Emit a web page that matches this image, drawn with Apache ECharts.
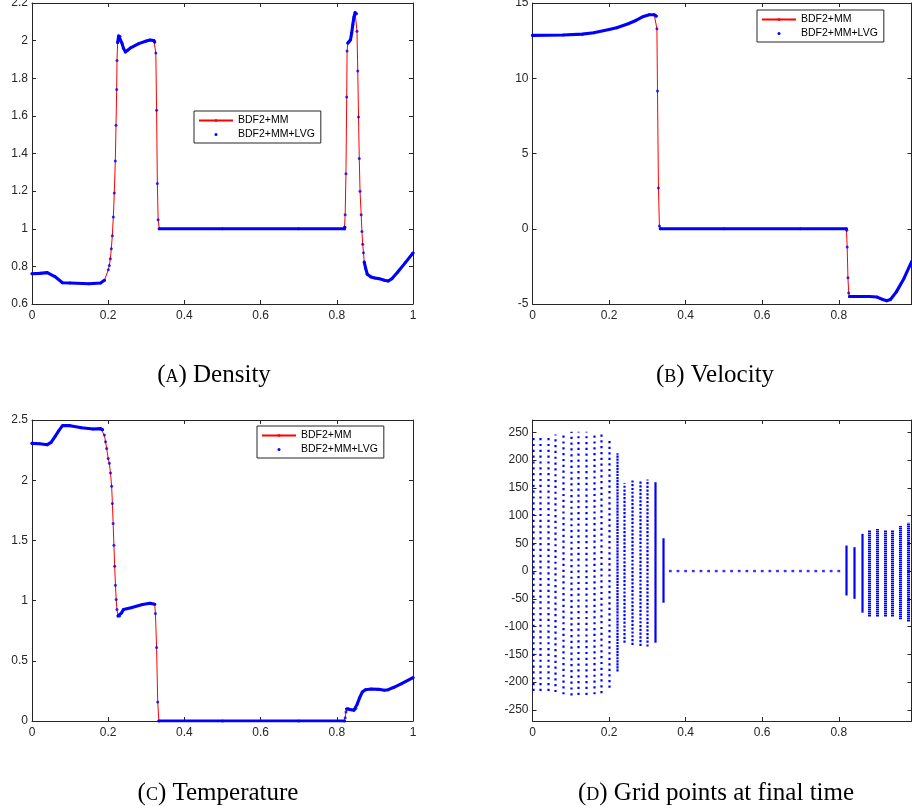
<!DOCTYPE html>
<html>
<head>
<meta charset="utf-8">
<script src="https://cdn.jsdelivr.net/npm/echarts@6/dist/echarts.min.js"></script>
<style>
  html, body { margin: 0; padding: 0; background: #fff; }
  #chart { width: 912px; height: 810px; }
</style>
</head>
<body>
<div id="chart"></div>
<script>
// values
var legendNames = ['BDF2+MM', 'BDF2+MM+LVG'];
var xTicks = [0, 0.2, 0.4, 0.6, 0.8, 1];

// (A) density
var densityX = [0, 0.02, 0.04, 0.06, 0.08, 0.1, 0.15, 0.18, 0.19, 0.2003, 0.203, 0.2056, 0.2082, 0.2108,
  0.2135, 0.216, 0.2187, 0.2205, 0.2222, 0.2231, 0.2248, 0.2275, 0.231, 0.236, 0.24, 0.245, 0.25, 0.26,
  0.28, 0.3, 0.31, 0.32, 0.322, 0.325, 0.327, 0.329, 0.331, 0.334, 0.5, 0.7, 0.82, 0.821, 0.822, 0.824,
  0.826, 0.827, 0.829, 0.832, 0.836, 0.839, 0.842, 0.845, 0.848, 0.851, 0.853, 0.855, 0.857, 0.859,
  0.861, 0.864, 0.866, 0.868, 0.87, 0.872, 0.876, 0.88, 0.89, 0.9, 0.91, 0.925, 0.935, 0.945, 0.96, 0.98, 1];
var densityY = [0.761, 0.763, 0.767, 0.746, 0.713, 0.712, 0.708, 0.712, 0.726, 0.782, 0.805, 0.84, 0.894, 0.963,
  1.062, 1.19, 1.36, 1.55, 1.74, 1.895, 1.99, 2.025, 2.023, 1.987, 1.96, 1.94, 1.948, 1.963,
  1.984, 1.998, 2.003, 2.0, 1.993, 1.934, 1.63, 1.24, 1.048, 1.0, 1.0, 1.0, 1.0, 1.008, 1.075, 1.293,
  1.70, 1.945, 1.987, 1.993, 2.005, 2.04, 2.086, 2.125, 2.149, 2.143, 2.05, 1.838, 1.594, 1.373,
  1.2, 1.075, 0.985, 0.917, 0.873, 0.823, 0.788, 0.758, 0.744, 0.738, 0.735, 0.726, 0.722, 0.735, 0.77, 0.82, 0.871];
var densityDense = [[0, 0.19], [0.2248, 0.322], [0.334, 0.821], [0.829, 0.851], [0.872, 1]];

// (B) velocity
var velocityX = [0, 0.08, 0.13, 0.16, 0.2, 0.22, 0.25, 0.27, 0.29, 0.305, 0.318, 0.323, 0.325, 0.3265,
  0.329, 0.3315, 0.334, 0.5, 0.7, 0.82, 0.821, 0.822, 0.824, 0.826, 0.828, 0.84, 0.88, 0.9, 0.915,
  0.925, 0.935, 0.95, 0.97, 0.99];
var velocityY = [12.85, 12.87, 12.93, 13.02, 13.24, 13.36, 13.62, 13.84, 14.11, 14.22, 14.22, 14.13, 13.29, 9.15,
  2.70, 0.18, 0, 0, 0, 0, -0.1, -1.22, -3.26, -4.27, -4.5, -4.5, -4.5, -4.54, -4.70,
  -4.78, -4.7, -4.21, -3.32, -2.2];
var velocityDense = [[0, 0.323], [0.334, 0.82], [0.828, 1]];

// (C) temperature
var temperatureX = [0, 0.02, 0.04, 0.05, 0.06, 0.07, 0.08, 0.1, 0.13, 0.16, 0.18, 0.185, 0.19, 0.193, 0.196,
  0.2, 0.203, 0.206, 0.209, 0.211, 0.213, 0.215, 0.217, 0.219, 0.221, 0.223, 0.226, 0.23, 0.235, 0.24,
  0.26, 0.29, 0.31, 0.322, 0.324, 0.327, 0.33, 0.333, 0.5, 0.7, 0.82, 0.822, 0.824, 0.826, 0.83, 0.838,
  0.845, 0.85, 0.853, 0.86, 0.867, 0.875, 0.89, 0.91, 0.925, 0.935, 0.95, 0.97, 1];
var temperatureY = [2.306, 2.303, 2.295, 2.314, 2.36, 2.41, 2.453, 2.453, 2.436, 2.425, 2.428, 2.42, 2.375, 2.32, 2.264,
  2.18, 2.14, 2.06, 1.95, 1.807, 1.64, 1.46, 1.286, 1.128, 1.009, 0.926, 0.873, 0.873, 0.898, 0.926,
  0.94, 0.967, 0.978, 0.97, 0.892, 0.61, 0.158, 0, 0, 0, 0, 0.028, 0.075, 0.1, 0.103, 0.094,
  0.089, 0.103, 0.136, 0.194, 0.241, 0.26, 0.266, 0.263, 0.255, 0.26, 0.28, 0.31, 0.36];
var temperatureDense = [[0, 0.188], [0.226, 0.322], [0.333, 0.82], [0.826, 1]];

// (D) grid points: one column of points per x, from bottom to top, spacing in y units (0 = packed solid)
var gridColX      = [0, 0.02, 0.04, 0.06, 0.08, 0.1, 0.12, 0.14, 0.16, 0.18, 0.2, 0.22, 0.24, 0.26, 0.28, 0.3, 0.32, 0.34,
                     0.82, 0.84, 0.86, 0.88, 0.9, 0.92, 0.94, 0.96, 0.98];
var gridColTop    = [245, 244, 244, 246, 250, 251, 251, 251, 250, 248, 238, 212, 158, 163, 164, 165, 160, 59,
                     46, 43, 67, 74, 76, 74, 74, 81, 87];
var gridColBottom = [-216, -216, -216, -218, -222, -224, -223, -223, -222, -220, -210, -181, -129, -133, -135, -136, -129, -57,
                     -44, -50, -75, -82, -82, -82, -82, -87, -91];
var gridColStep   = [10.5, 10.5, 10.5, 10.5, 10.5, 10.5, 10.5, 10.5, 10.5, 10.5, 10, 5.5, 6.8, 6.8, 6.8, 6.8, 0, 0,
                     0, 0, 0, 3.6, 3.6, 3.6, 3.6, 3.6, 3.6];
var gridRowX = [0.36, 0.38, 0.4, 0.42, 0.44, 0.46, 0.48, 0.5, 0.52, 0.54, 0.56, 0.58, 0.6, 0.62, 0.64,
                0.66, 0.68, 0.7, 0.72, 0.74, 0.76, 0.78, 0.8];
var gridYTicks = [-250, -200, -150, -100, -50, 0, 50, 100, 150, 200, 250];

var captionTags = ['A', 'B', 'C', 'D'];
var captionTexts = ['Density', 'Velocity', 'Temperature', 'Grid points at final time'];

// ---- chart ----
var AX = '#262626';
var RED = '#ff0000';
var BLUE = '#0000ff';

var grids = [
  { left: 32, top: 3, width: 381, height: 301, outerBoundsMode: 'none' },
  { left: 532.5, top: 3, width: 379, height: 301, outerBoundsMode: 'none' },
  { left: 32, top: 420, width: 381, height: 301, outerBoundsMode: 'none' },
  { left: 532.5, top: 420, width: 379, height: 301, outerBoundsMode: 'none' }
];
var xMax = [1, 0.99, 1, 0.99];
var yRanges = [
  { min: 0.6, max: 2.2, interval: 0.2 },
  { min: -5, max: 15, interval: 5 },
  { min: 0, max: 2.5, interval: 0.5 },
  { min: -270, max: 272 }
];
var captionPos = [[214, 375], [715, 375], [218, 793], [716, 793]];

var xAxes = [], yAxes = [];
grids.forEach(function (g, gi) {
  var ticks = xTicks.filter(function (t) { return t <= xMax[gi]; });
  ['bottom', 'top'].forEach(function (pos) {
    xAxes.push({
      type: 'value', gridIndex: gi, position: pos, min: 0, max: xMax[gi],
      axisLine: { onZero: false, lineStyle: { color: AX, width: 1 } },
      axisTick: { inside: true, length: 4, lineStyle: { color: AX }, customValues: ticks },
      axisLabel: { show: pos === 'bottom', color: AX, fontSize: 12, fontFamily: 'Liberation Sans', margin: 6, customValues: ticks },
      splitLine: { show: false }
    });
  });
  ['left', 'right'].forEach(function (pos) {
    var r = yRanges[gi];
    var ax = {
      type: 'value', gridIndex: gi, position: pos, min: r.min, max: r.max,
      axisLine: { onZero: false, lineStyle: { color: AX, width: 1 } },
      axisTick: { inside: true, length: 4, lineStyle: { color: AX } },
      axisLabel: { show: pos === 'left', color: AX, fontSize: 12, fontFamily: 'Liberation Sans', margin: 4 },
      splitLine: { show: false }
    };
    if (r.interval) {
      ax.interval = r.interval;
    } else {
      ax.axisTick.customValues = gridYTicks;
      ax.axisLabel.customValues = gridYTicks;
    }
    yAxes.push(ax);
  });
});

function pairs(xs, ys) {
  return xs.map(function (x, i) { return [x, ys[i]]; });
}
function densePart(xs, ys, ranges) {
  return xs.map(function (x, i) {
    var inside = ranges.some(function (r) { return x >= r[0] && x <= r[1]; });
    return inside ? [x, ys[i]] : [x, '-'];
  });
}

var curves = [
  [densityX, densityY, densityDense],
  [velocityX, velocityY, velocityDense],
  [temperatureX, temperatureY, temperatureDense]
];

var series = [];
curves.forEach(function (c, gi) {
  var ai = gi * 2;
  series.push({
    name: legendNames[0], type: 'line', xAxisIndex: ai, yAxisIndex: ai,
    data: pairs(c[0], c[1]), z: 2,
    // hidden thin-bar symbol so the legend icon is a plain line
    symbol: 'path://M0,0H40V1H0Z', symbolKeepAspect: true, showSymbol: false,
    lineStyle: { color: RED, width: 1 }, itemStyle: { color: RED, borderWidth: 0 }
  });
  series.push({
    name: legendNames[1], type: 'line', xAxisIndex: ai, yAxisIndex: ai,
    data: densePart(c[0], c[1], c[2]), symbol: 'none', z: 3, connectNulls: false,
    lineStyle: { color: BLUE, width: 3.1, cap: 'round', join: 'round' }, itemStyle: { color: BLUE }
  });
  series.push({
    name: legendNames[1], type: 'scatter', xAxisIndex: ai, yAxisIndex: ai,
    data: pairs(c[0], c[1]), symbol: 'circle', symbolSize: 3, z: 4,
    itemStyle: { color: BLUE }
  });
});

// (D) columns of grid points
series.push({
  type: 'custom', xAxisIndex: 6, yAxisIndex: 6, z: 3,
  data: gridColX.map(function (x, i) { return [x, gridColBottom[i], gridColTop[i], gridColStep[i]]; }),
  encode: { x: 0, y: [1, 2] },
  renderItem: function (params, api) {
    var x = Math.round(api.coord([api.value(0), 0])[0]) + 0.5;
    var p1 = api.coord([api.value(0), api.value(1)]);
    var p2 = api.coord([api.value(0), api.value(2)]);
    var step = api.value(3);
    var style = { stroke: BLUE, fill: null, lineWidth: 2.2 };
    if (step > 0) {
      var gap = api.size([0, step])[1];
      if (step < 5) {
        style.lineWidth = 3;
        style.lineDash = [1.5, Math.max(gap - 1.5, 0.5)];
      } else {
        style.lineDash = [2.2, gap - 2.2];
      }
    }
    return { type: 'line', shape: { x1: x, y1: p1[1], x2: x, y2: p2[1] }, style: style };
  }
});
series.push({
  type: 'scatter', xAxisIndex: 6, yAxisIndex: 6, z: 3,
  data: gridRowX.map(function (x) { return [x, 0]; }),
  symbol: 'rect', symbolSize: [2.8, 2.4], itemStyle: { color: BLUE }
});

function legendAt(left, top) {
  return {
    left: left, top: top, orient: 'vertical', align: 'left',
    data: [
      { name: legendNames[0] },
      { name: legendNames[1], icon: 'circle', itemStyle: { color: BLUE } }
    ],
    itemWidth: 34, itemHeight: 3, itemGap: 3,
    padding: [4, 6, 3, 4],
    backgroundColor: '#fff', borderColor: AX, borderWidth: 1,
    textStyle: { fontFamily: 'Liberation Sans', fontSize: 10.5, color: '#000', lineHeight: 11 },
    selectedMode: false
  };
}

var graphics = captionTags.map(function (tag, i) {
  var base = { fontFamily: 'Liberation Serif', fill: '#000', verticalAlign: 'bottom' };
  return {
    type: 'text', x: captionPos[i][0], y: captionPos[i][1], z: 10,
    style: {
      text: '{p|(}{s|' + tag + '}{p|) ' + captionTexts[i] + '}',
      align: 'center', verticalAlign: 'middle',
      rich: {
        p: Object.assign({ fontSize: 25 }, base),
        s: Object.assign({ fontSize: 18, padding: [0, 0, 1, 0] }, base)
      }
    }
  };
});

var chart = echarts.init(document.getElementById('chart'));
chart.setOption({
  animation: false,
  backgroundColor: '#fff',
  grid: grids,
  xAxis: xAxes,
  yAxis: yAxes,
  legend: [legendAt(194, 111), legendAt(757, 10), legendAt(257, 426)],
  series: series,
  graphic: graphics
});
</script>
</body>
</html>
